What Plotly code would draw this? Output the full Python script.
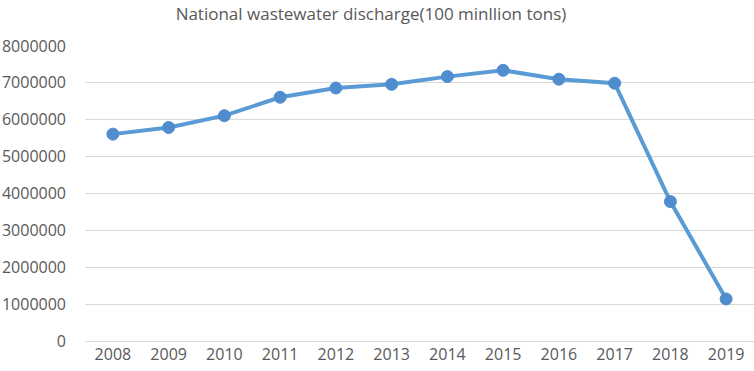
import plotly.graph_objects as go

years = ["2008", "2009", "2010", "2011", "2012", "2013", "2014", "2015", "2016", "2017", "2018", "2019"]
discharge = [5610000, 5790000, 6110000, 6610000, 6860000, 6960000, 7170000, 7340000, 7100000, 6990000, 3780000, 1140000]
y_ticks = [0, 1000000, 2000000, 3000000, 4000000, 5000000, 6000000, 7000000, 8000000]

fig = go.Figure()
fig.add_trace(go.Scatter(
    x=years, y=discharge, mode="lines+markers",
    line=dict(color="#5B9BD5", width=4),
    marker=dict(color="#4F8DCE", size=12, line=dict(color="#4F8DCE", width=1)),
    showlegend=False, cliponaxis=False,
))

fig.update_layout(
    width=754, height=371,
    margin=dict(l=85, r=0, t=46, b=30, autoexpand=False),
    paper_bgcolor="white", plot_bgcolor="white",
    font=dict(family="Open Sans", color="#595959", size=16),
    title=dict(text="National wastewater discharge(100 minllion tons)",
               x=0.492, xanchor="center", y=0.963, yanchor="middle",
               font=dict(size=17, color="#595959")),
)
fig.update_xaxes(type="category", range=[-0.5, 11.5], showgrid=False, showline=False, ticks="",
                 tickfont=dict(size=16, color="#595959"), ticklabelstandoff=2)
fig.update_yaxes(range=[0, 8000000], tickvals=y_ticks, ticktext=[str(v) for v in y_ticks],
                 showgrid=True, gridcolor="#D9D9D9", gridwidth=1.3, zeroline=True,
                 zerolinecolor="#D9D9D9", zerolinewidth=1.3, showline=False, ticks="",
                 ticklabelstandoff=18, tickfont=dict(size=16, color="#595959"))

fig.write_html("out.html", config={"displayModeBar": False},
               post_script="document.body.style.margin='0px';")
